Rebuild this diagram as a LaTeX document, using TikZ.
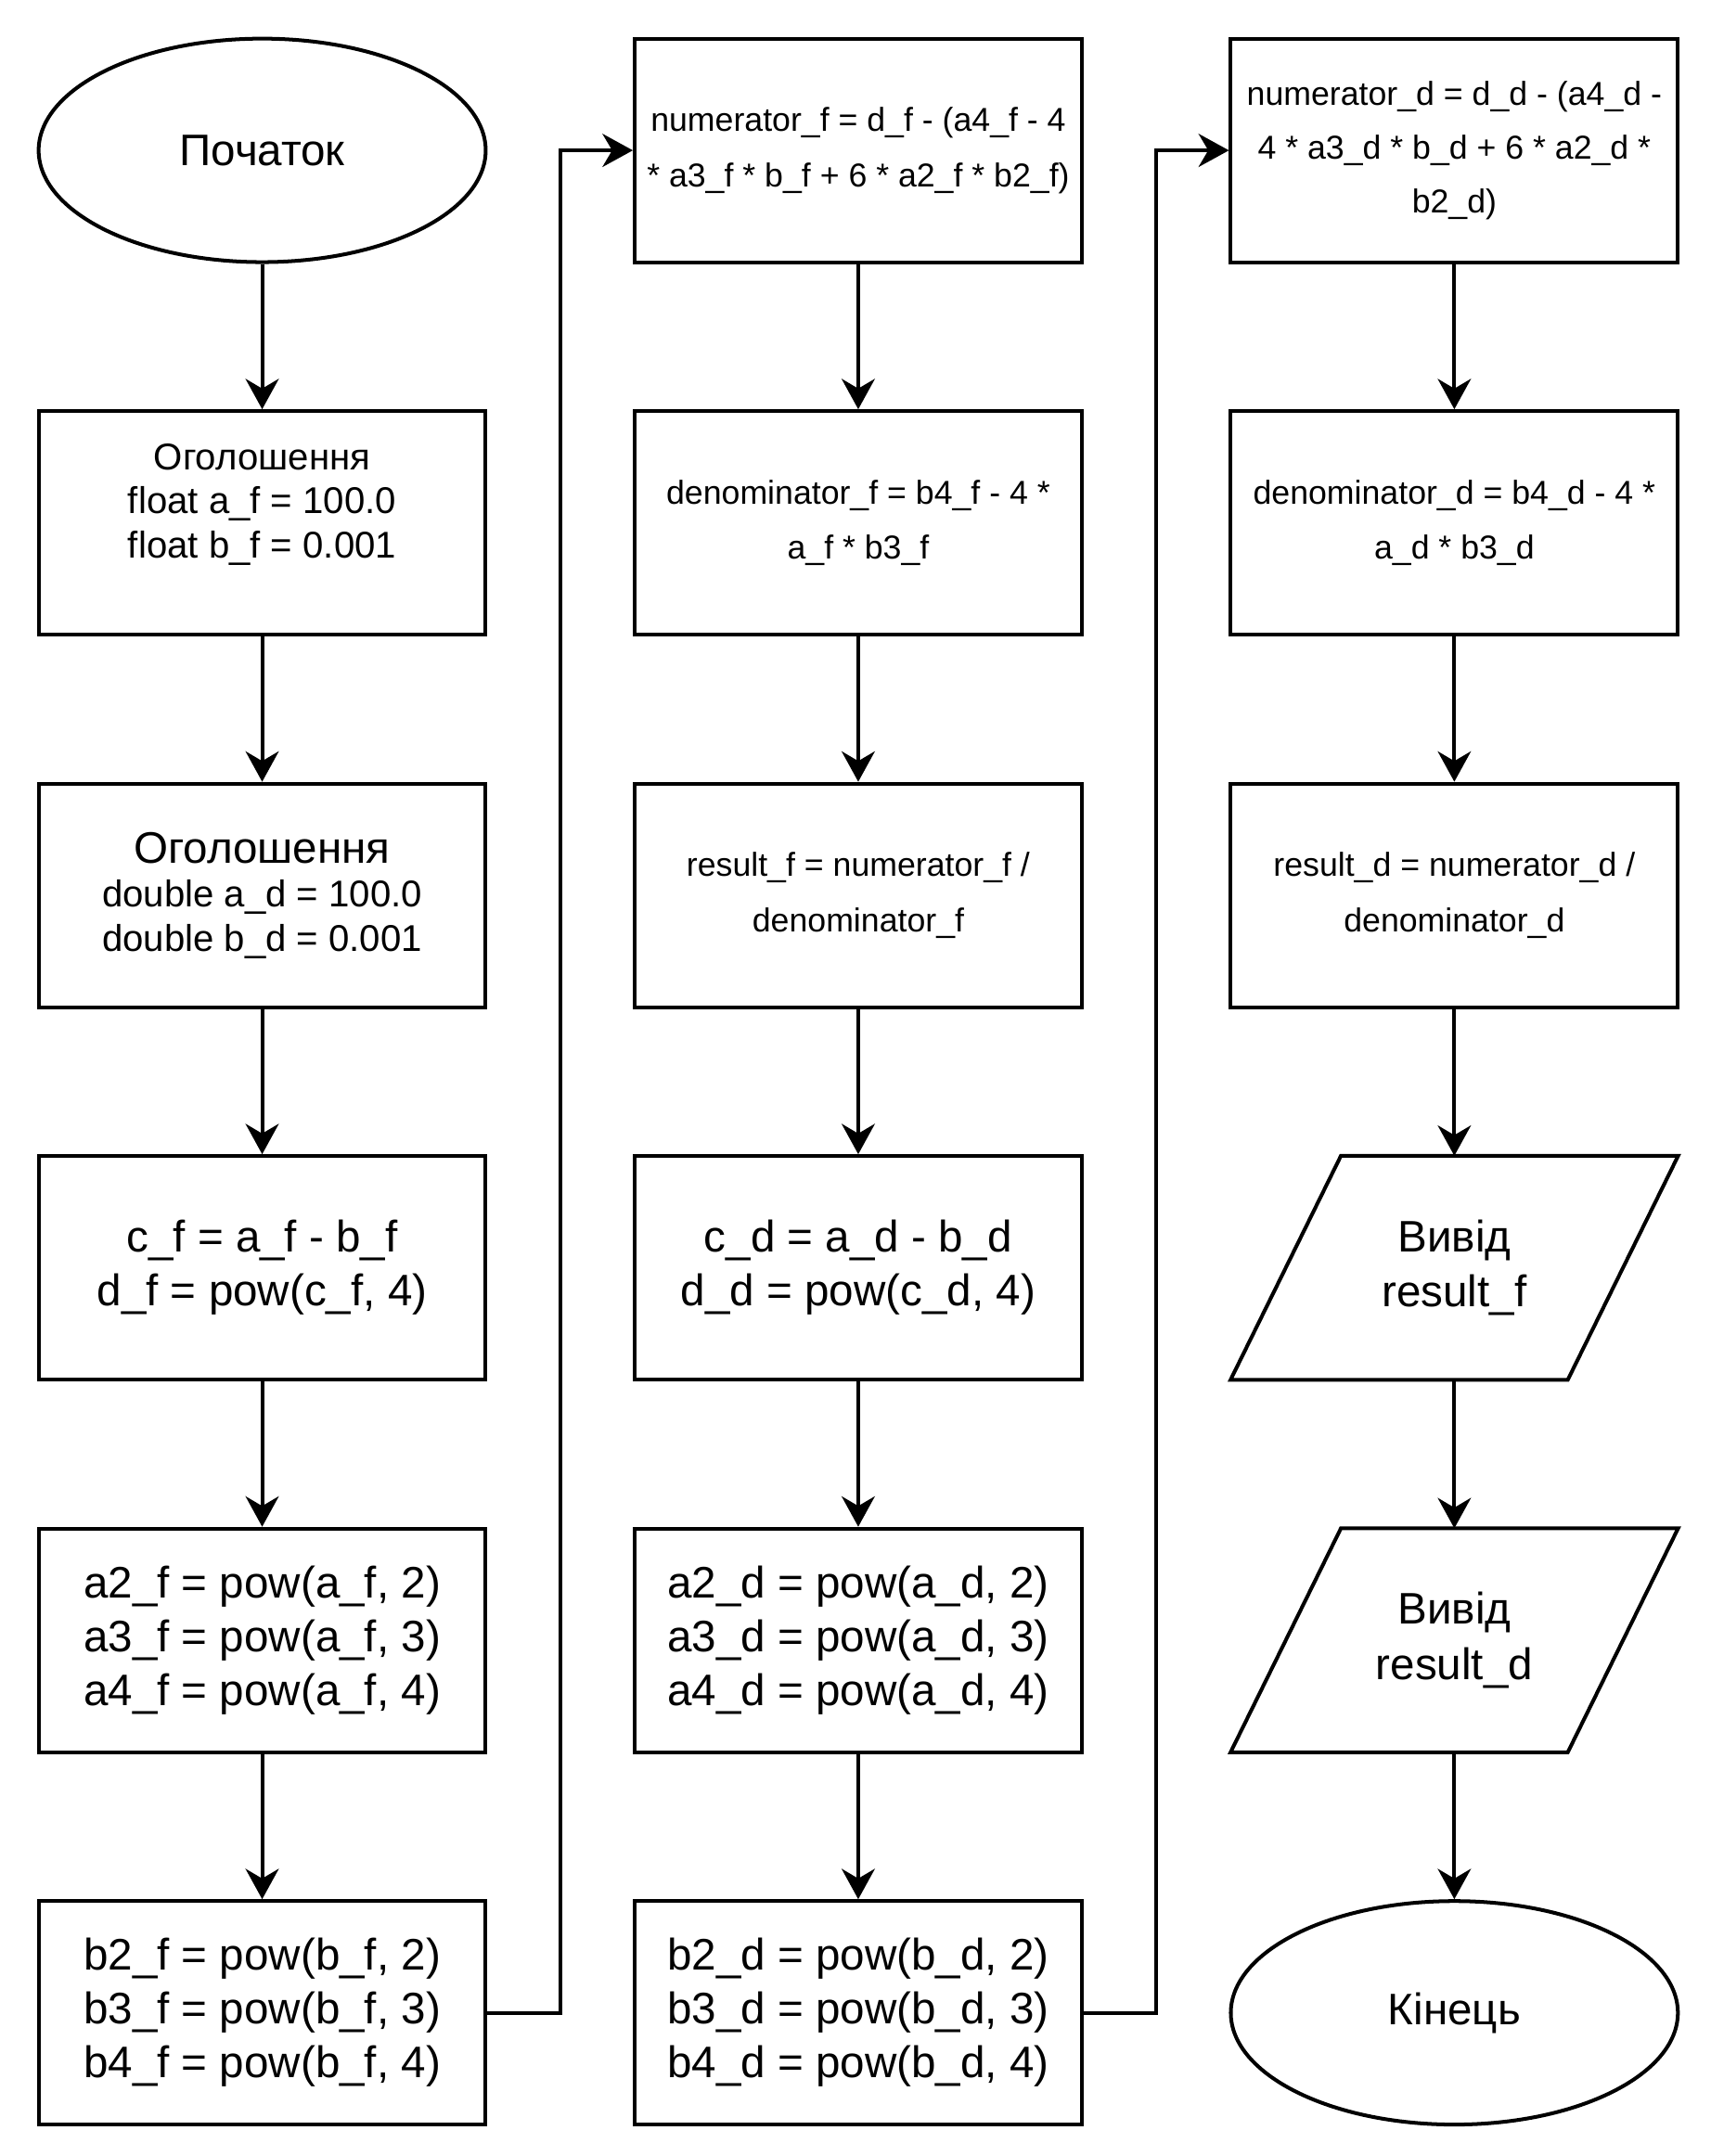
\documentclass[tikz,border=0pt]{standalone}
\usepackage{fontspec}
\setmainfont{Liberation Sans}
\usetikzlibrary{arrows.meta,shapes.geometric}
\begin{document}
\begin{tikzpicture}[x=1pt,y=-1pt,
  shp/.style={draw, line width=2.7pt, minimum width=324pt, minimum height=162pt, inner sep=0pt, align=center},
  box/.style={shp, rectangle},
  term/.style={shp, ellipse},
  iotext/.style={rectangle, minimum width=324pt, minimum height=162pt, inner sep=0pt, align=center},
  big/.style={font=\fontsize{32}{39}\selectfont},
  mid/.style={font=\fontsize{27}{32}\selectfont},
  small/.style={font=\fontsize{24}{40}\selectfont},
  line/.style={line width=2.7pt},
  arr/.style={line width=2.7pt, -{Stealth[length=22pt,width=24pt,inset=7pt]}}
]
\useasboundingbox (0,0) rectangle (1240,1562.8);
% column 1
\node[term, big] (start) at (190,109) {Початок};
\node[box, mid] (decf) at (190,379) {Оголошення\\float a\_f = 100.0\\float b\_f = 0.001\\ \mbox{}};
\node[box, mid] (decd) at (190,649) {{\fontsize{32}{38}\selectfont Оголошення}\\double a\_d = 100.0\\double b\_d = 0.001};
\node[box, big] (cf) at (190,919) {c\_f = a\_f - b\_f\\d\_f = pow(c\_f, 4)};
\node[box, big] (af) at (190,1189) {a2\_f = pow(a\_f, 2)\\a3\_f = pow(a\_f, 3)\\a4\_f = pow(a\_f, 4)};
\node[box, big] (bf) at (190,1459) {b2\_f = pow(b\_f, 2)\\b3\_f = pow(b\_f, 3)\\b4\_f = pow(b\_f, 4)};
% column 2
\node[box, small] (numf) at (622,109) {numerator\_f = d\_f - (a4\_f - 4\\* a3\_f * b\_f + 6 * a2\_f * b2\_f)};
\node[box, small] (denf) at (622,379) {denominator\_f = b4\_f - 4 *\\a\_f * b3\_f};
\node[box, small] (resf) at (622,649) {result\_f = numerator\_f /\\denominator\_f};
\node[box, big] (cd) at (622,919) {c\_d = a\_d - b\_d\\d\_d = pow(c\_d, 4)};
\node[box, big] (ad) at (622,1189) {a2\_d = pow(a\_d, 2)\\a3\_d = pow(a\_d, 3)\\a4\_d = pow(a\_d, 4)};
\node[box, big] (bd) at (622,1459) {b2\_d = pow(b\_d, 2)\\b3\_d = pow(b\_d, 3)\\b4\_d = pow(b\_d, 4)};
% column 3
\node[box, small, font=\fontsize{24}{39}\selectfont] (numd) at (1054,109) {numerator\_d = d\_d - (a4\_d -\\4 * a3\_d * b\_d + 6 * a2\_d *\\b2\_d)};
\node[box, small] (dend) at (1054,379) {denominator\_d = b4\_d - 4 *\\a\_d * b3\_d};
\node[box, small] (resd) at (1054,649) {result\_d = numerator\_d /\\denominator\_d};
\node[iotext, big, font=\fontsize{32}{40}\selectfont] (outf) at (1054,919) {Вивід\\result\_f};
\node[iotext, big, font=\fontsize{32}{40}\selectfont] (outd) at (1054,1189) {Вивід\\result\_d};
\node[term, big] (fin) at (1054,1459) {Кінець};
\draw[line, line join=miter] ([xshift=80pt]outf.north west) -- (outf.north east) -- ([xshift=-80pt]outf.south east) -- (outf.south west) -- cycle;
\draw[line, line join=miter] ([xshift=80pt]outd.north west) -- (outd.north east) -- ([xshift=-80pt]outd.south east) -- (outd.south west) -- cycle;
% connectors
\draw[arr] (start) -- (decf);
\draw[arr] (decf) -- (decd);
\draw[arr] (decd) -- (cf);
\draw[arr] (cf) -- (af);
\draw[arr] (af) -- (bf);
\coordinate (j1) at (406,1459);
\draw[arr] (bf.east) -- (j1) |- (numf.west);
\draw[arr] (numf) -- (denf);
\draw[arr] (denf) -- (resf);
\draw[arr] (resf) -- (cd);
\draw[arr] (cd) -- (ad);
\draw[arr] (ad) -- (bd);
\coordinate (j2) at (838,1459);
\draw[arr] (bd.east) -- (j2) |- (numd.west);
\draw[arr] (numd) -- (dend);
\draw[arr] (dend) -- (resd);
\draw[arr] (resd) -- (outf.north);
\draw[arr] (outf.south) -- (outd.north);
\draw[arr] (outd.south) -- (fin);
\end{tikzpicture}
\end{document}
